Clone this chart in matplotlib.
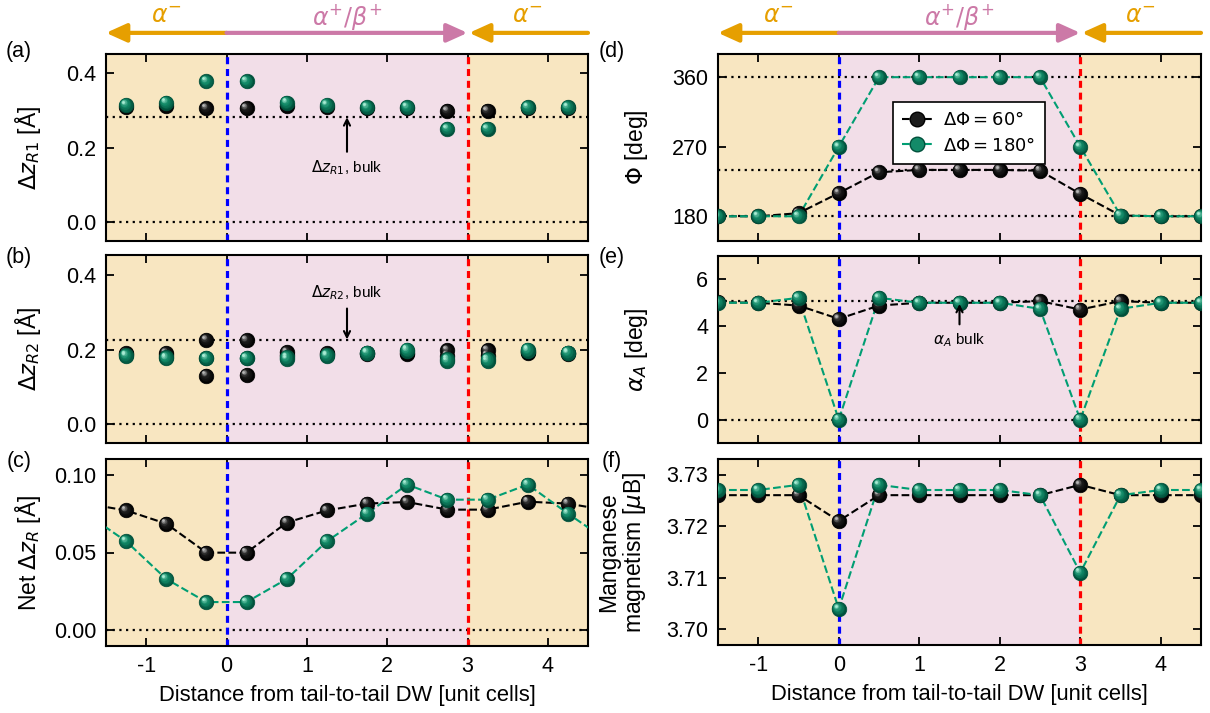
import numpy as np
import matplotlib
matplotlib.use("Agg")
import matplotlib.pyplot as plt
import matplotlib.colors as mcolors
from matplotlib import transforms
from matplotlib.lines import Line2D

plt.rcParams['font.family'] = ['Liberation Sans', 'DejaVu Sans']
plt.rcParams['mathtext.fontset'] = 'dejavusans'
plt.rcParams['axes.unicode_minus'] = False

# ---------------- data ----------------
x_half = [-1.25, -0.75, -0.25, 0.25, 0.75, 1.25, 1.75, 2.25, 2.75, 3.25, 3.75, 4.25]
dzR1_60 = [0.307, 0.311, 0.305, 0.305, 0.311, 0.307, 0.306, 0.306, 0.298, 0.298, 0.306, 0.306]
dzR1_180 = [0.314, 0.320, 0.377, 0.377, 0.320, 0.314, 0.308, 0.308, 0.250, 0.250, 0.308, 0.308]
dzR1_bulk = 0.281

dzR2_60_a = [0.191, 0.192, 0.227, 0.226, 0.194, 0.191, 0.192, 0.192, 0.199, 0.199, 0.195, 0.192]
dzR2_60_b = [0.188, 0.186, 0.131, 0.133, 0.186, 0.188, 0.190, 0.190, 0.185, 0.185, 0.193, 0.190]
dzR2_180_a = [0.186, 0.177, 0.178, 0.178, 0.176, 0.186, 0.193, 0.201, 0.170, 0.170, 0.201, 0.193]
dzR2_180_b = [0.184, 0.180, 0.178, 0.178, 0.181, 0.184, 0.192, 0.198, 0.175, 0.175, 0.198, 0.192]
dzR2_bulk = 0.228

x_net = [-1.75, -1.25, -0.75, -0.25, 0.25, 0.75, 1.25, 1.75, 2.25, 2.75, 3.25, 3.75, 4.25, 4.75]
net_60 = [0.0814, 0.077, 0.0685, 0.0499, 0.0499, 0.0692, 0.077, 0.0814, 0.0824, 0.0775, 0.0775, 0.0826, 0.0814, 0.077]
net_180 = [0.075, 0.0572, 0.033, 0.0182, 0.0182, 0.033, 0.0572, 0.075, 0.0936, 0.0839, 0.0839, 0.0936, 0.075, 0.0572]

x_int = [-1.5, -1.0, -0.5, 0.0, 0.5, 1.0, 1.5, 2.0, 2.5, 3.0, 3.5, 4.0, 4.5]
phi_60 = [180, 180, 184, 210, 237, 240, 240, 240, 239, 209, 181, 180, 180]
phi_180 = [180, 180, 180, 270, 360, 360, 360, 360, 360, 270, 181, 180, 180]
phi_refs = [180, 240, 360]

alpha_60 = [5.02, 5.0, 4.88, 4.31, 4.88, 5.0, 5.0, 5.0, 5.07, 4.71, 5.07, 5.0, 5.0]
alpha_180 = [5.0, 5.0, 5.21, 0.0, 5.21, 5.0, 5.0, 5.0, 4.74, 0.0, 4.74, 5.0, 5.0]
alpha_bulk = 5.07

mag_60 = [3.726, 3.726, 3.726, 3.721, 3.726, 3.726, 3.726, 3.726, 3.726, 3.728, 3.726, 3.726, 3.726]
mag_180 = [3.727, 3.727, 3.728, 3.704, 3.728, 3.727, 3.727, 3.727, 3.726, 3.711, 3.726, 3.727, 3.727]

dw_left, dw_right = 0.0, 3.0
x_min, x_max = -1.5, 4.5

ORANGE = '#E69F00'
PINK = '#CC79A7'
GREEN = '#009E73'

# --------------- figure ---------------
fig = plt.figure(figsize=(12.10, 7.13), dpi=100)
W, H = 1210, 713

def add_ax(left, top, right, bottom):
    return fig.add_axes([left / W, 1 - bottom / H, (right - left) / W, (bottom - top) / H])

axA = add_ax(106, 54, 588, 241)
axB = add_ax(106, 255, 588, 443)
axC = add_ax(106, 459, 588, 646)
axD = add_ax(718, 54, 1201, 241)
axE = add_ax(718, 256, 1201, 443)
axF = add_ax(718, 459, 1201, 645)

FS = 15.5
YFS = 16.5

def style(ax, show_x):
    ax.set_xlim(x_min, x_max)
    ax.axvspan(x_min, dw_left, color='#F8E6C1', zorder=0, lw=0)
    ax.axvspan(dw_left, dw_right, color='#F2DEE8', zorder=0, lw=0)
    ax.axvspan(dw_right, x_max, color='#F8E6C1', zorder=0, lw=0)
    ax.axvline(dw_left, color='#0000FF', lw=2.3, ls=(0, (2.2, 1.5)), zorder=2)
    ax.axvline(dw_right, color='#FF0000', lw=2.3, ls=(0, (2.2, 1.5)), zorder=2)
    ax.set_xticks([-1, 0, 1, 2, 3, 4])
    ax.tick_params(direction='in', top=True, right=True, length=6, width=1.3,
                   labelsize=FS, pad=7)
    if not show_x:
        ax.tick_params(labelbottom=False)
    else:
        ax.set_xlabel('Distance from tail-to-tail DW [unit cells]', fontsize=15.8, labelpad=6)
    for s in ax.spines.values():
        s.set_linewidth(1.5)

def hline(ax, y):
    ax.axhline(y, color='black', lw=1.6, ls=(0, (1, 2)), zorder=1)

DARK = {'k': np.array(mcolors.to_rgb('#000000')), 'g': np.array(mcolors.to_rgb('#00503b'))}
MID = {'k': np.array(mcolors.to_rgb('#1c1c1c')), 'g': np.array(mcolors.to_rgb('#138a68'))}
LIGHT = {'k': np.array(mcolors.to_rgb('#b8b8b8')), 'g': np.array(mcolors.to_rgb('#a8ecd4'))}

def sphere(ax, x, y, key, ms=10.5, z=5):
    ax.plot(x, y, ls='none', marker='o', ms=ms, mfc=DARK[key], mec=DARK[key],
            mew=0.5, zorder=z)
    n = 9
    for i in range(1, n + 1):
        t = i / n
        if t < 0.55:
            c = DARK[key] + (MID[key] - DARK[key]) * (t / 0.55)
        else:
            c = MID[key] + (LIGHT[key] - MID[key]) * ((t - 0.55) / 0.45) ** 1.6
        size = ms * (1 - 0.82 * t)
        off = ms * 0.22 * t
        tr = transforms.offset_copy(ax.transData, fig=fig, x=-off, y=off, units='points')
        ax.plot(x, y, ls='none', marker='o', ms=size, mfc=c, mec='none',
                zorder=z + 0.01 * i, transform=tr)

def dline(ax, x, y, color):
    ax.plot(x, y, ls='--', color=color, lw=1.5, zorder=3)

ARW = dict(arrowstyle='->', lw=1.5, color='black', shrinkA=3, shrinkB=0)

# (a)
style(axA, False)
axA.set_ylim(-0.05, 0.45)
axA.set_yticks([0.0, 0.2, 0.4])
hline(axA, 0.0)
hline(axA, dzR1_bulk)
sphere(axA, x_half, dzR1_60, 'k')
sphere(axA, x_half, dzR1_180, 'g', z=6)
axA.annotate(r'$\Delta z_{R1}$, bulk', xy=(1.5, dzR1_bulk), xytext=(1.5, 0.145),
             ha='center', va='center', fontsize=11, arrowprops=ARW)
axA.set_ylabel(r'$\Delta z_{R1}$ [Å]', fontsize=YFS)

# (b)
style(axB, False)
axB.set_ylim(-0.05, 0.455)
axB.set_yticks([0.0, 0.2, 0.4])
hline(axB, 0.0)
hline(axB, dzR2_bulk)
sphere(axB, x_half, dzR2_60_a, 'k')
sphere(axB, x_half, dzR2_60_b, 'k')
sphere(axB, x_half, dzR2_180_a, 'g', z=6)
sphere(axB, x_half, dzR2_180_b, 'g', z=6)
axB.annotate(r'$\Delta z_{R2}$, bulk', xy=(1.5, dzR2_bulk), xytext=(1.5, 0.355),
             ha='center', va='center', fontsize=11, arrowprops=ARW)
axB.set_ylabel(r'$\Delta z_{R2}$ [Å]', fontsize=YFS)

# (c)
style(axC, True)
axC.set_ylim(-0.01, 0.11)
axC.set_yticks([0.0, 0.05, 0.10])
axC.set_yticklabels(['0.00', '0.05', '0.10'])
hline(axC, 0.0)
dline(axC, x_net, net_60, 'black')
dline(axC, x_net, net_180, GREEN)
sphere(axC, x_net, net_60, 'k')
sphere(axC, x_net, net_180, 'g', z=6)
axC.set_ylabel(r'Net $\Delta z_R$ [Å]', fontsize=YFS)

# (d)
style(axD, False)
axD.set_ylim(148, 390)
axD.set_yticks([180, 270, 360])
for r in phi_refs:
    hline(axD, r)
dline(axD, x_int, phi_60, 'black')
dline(axD, x_int, phi_180, GREEN)
sphere(axD, x_int, phi_60, 'k')
sphere(axD, x_int, phi_180, 'g', z=6)
axD.set_ylabel(r'$\Phi$ [deg]', fontsize=YFS)
h60 = Line2D([], [], ls='--', color='black', lw=1.5, marker='o', ms=10.5,
             mfc=MID['k'], mec=DARK['k'])
h180 = Line2D([], [], ls='--', color=GREEN, lw=1.5, marker='o', ms=10.5,
              mfc=MID['g'], mec=DARK['g'])
leg = axD.legend([h60, h180], [r'$\Delta\Phi = 60°$', r'$\Delta\Phi = 180°$'],
                 loc='upper left', bbox_to_anchor=(0.343, 0.79), fontsize=13,
                 frameon=True, fancybox=False, edgecolor='black', framealpha=1,
                 handlelength=1.7, handletextpad=0.6, borderpad=0.5, labelspacing=0.4)
leg.get_frame().set_linewidth(1.2)
leg.set_zorder(10)

# (e)
style(axE, False)
axE.set_ylim(-1, 7)
axE.set_yticks([0, 2, 4, 6])
hline(axE, 0.0)
hline(axE, alpha_bulk)
dline(axE, x_int, alpha_60, 'black')
dline(axE, x_int, alpha_180, GREEN)
sphere(axE, x_int, alpha_60, 'k')
sphere(axE, x_int, alpha_180, 'g', z=6)
axE.annotate(r'$\alpha_A$ bulk', xy=(1.5, 4.95), xytext=(1.5, 3.4),
             ha='center', va='center', fontsize=11, zorder=12, arrowprops=ARW)
axE.set_ylabel(r'$\alpha_A$ [deg]', fontsize=YFS)

# (f)
style(axF, True)
axF.set_ylim(3.697, 3.733)
axF.set_yticks([3.70, 3.71, 3.72, 3.73])
axF.set_yticklabels(['3.70', '3.71', '3.72', '3.73'])
dline(axF, x_int, mag_60, 'black')
dline(axF, x_int, mag_180, GREEN)
sphere(axF, x_int, mag_60, 'k')
sphere(axF, x_int, mag_180, 'g', z=6)
axF.set_ylabel('Manganese\nmagnetism [$\\mu$B]', fontsize=YFS, linespacing=1.05)

for ax in [axA, axB, axC]:
    ax.yaxis.set_label_coords(-0.13, 0.5)
for ax in [axD, axE]:
    ax.yaxis.set_label_coords(-0.14, 0.5)
axF.yaxis.set_label_coords(-0.145, 0.5)

# panel letters
letters = [('(a)', 19, 52), ('(b)', 19, 257), ('(c)', 19, 461),
           ('(d)', 612, 52), ('(e)', 612, 257), ('(f)', 612, 461)]
for t, px, py in letters:
    fig.text(px / W, 1 - py / H, t, fontsize=FS, ha='center', va='center')

# region arrows
for ax in [axA, axD]:
    y_ar = 1.113
    kw = dict(xycoords=('data', 'axes fraction'), textcoords=('data', 'axes fraction'),
              annotation_clip=False)
    style_str = '-|>,head_length=0.62,head_width=0.28'
    ax.annotate('', xy=(x_min, y_ar), xytext=(dw_left, y_ar),
                arrowprops=dict(arrowstyle=style_str, mutation_scale=20, lw=3,
                                color=ORANGE, shrinkA=0, shrinkB=0), **kw)
    ax.annotate('', xy=(dw_right, y_ar), xytext=(dw_left, y_ar),
                arrowprops=dict(arrowstyle=style_str, mutation_scale=20, lw=3,
                                color=PINK, shrinkA=0, shrinkB=0), **kw)
    ax.annotate('', xy=(dw_right + 0.02, y_ar), xytext=(x_max, y_ar),
                arrowprops=dict(arrowstyle=style_str, mutation_scale=20, lw=3,
                                color=ORANGE, shrinkA=0, shrinkB=0), **kw)
    tr = ax.get_xaxis_transform()
    ax.text(-0.75, 1.20, r'$\alpha^{-}$', color=ORANGE, fontsize=17, ha='center', va='center', transform=tr)
    ax.text(1.5, 1.20, r'$\alpha^{+}/\beta^{+}$', color=PINK, fontsize=17, ha='center', va='center', transform=tr)
    ax.text(3.75, 1.20, r'$\alpha^{-}$', color=ORANGE, fontsize=17, ha='center', va='center', transform=tr)

fig.savefig('out.png', dpi=100)
